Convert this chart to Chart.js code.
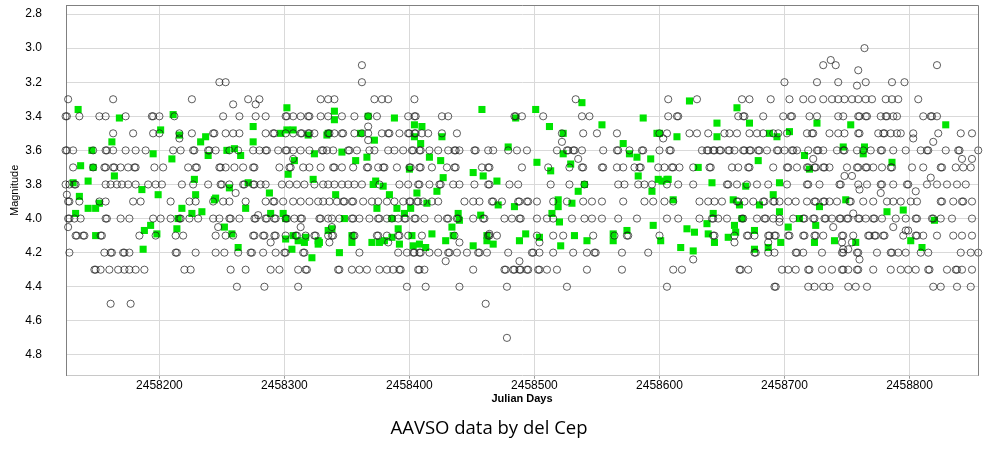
<!DOCTYPE html>
<html>
<head>
<meta charset="utf-8">
<script src="https://cdn.jsdelivr.net/npm/chart.js@4.4.1/dist/chart.umd.min.js"></script>
<style>
  html, body { margin: 0; padding: 0; background: #fff; }
  #wrap { width: 989px; height: 460px; position: relative; }
</style>
</head>
<body>
<div id="wrap"><canvas id="delCepChart"></canvas></div>
<script>
// Julian Day values are stored as offsets from this base
const JD_BASE = 2458000;

// Axis ticks
const xTicks = [2458200, 2458300, 2458400, 2458500, 2458600, 2458700, 2458800];
const yTicks = [2.8, 3.0, 3.2, 3.4, 3.6, 3.8, 4.0, 4.2, 4.4, 4.6, 4.8];

// Visual estimates (open circles), grouped by the magnitude they were reported at
const row30 = [764];
const row31 = [362, 731, 741, 822];
const row32 = [248, 253, 362, 700, 726, 743, 765, 786, 796];
const row33 = [127, 163, 226, 271, 280, 329, 335, 340, 372, 378, 383, 404, 533, 607, 630, 666, 672, 689, 704, 715, 722, 731, 738, 743, 748, 754, 759, 765, 770, 781, 786, 791, 807];
const row34 = [125, 126, 136, 152, 157, 173, 194, 195, 200, 212, 251, 264, 277, 285, 301, 302, 307, 313, 319, 320, 329, 335, 346, 356, 367, 374, 399, 404, 405, 426, 431, 484, 485, 490, 507, 538, 544, 607, 614, 615, 663, 667, 668, 683, 699, 705, 706, 720, 726, 743, 747, 759, 760, 765, 766, 777, 781, 782, 787, 790, 811, 817, 818, 822];
const row35 = [163, 179, 195, 200, 216, 226, 243, 244, 253, 259, 264, 285, 291, 292, 301, 307, 313, 314, 319, 320, 324, 335, 336, 340, 346, 347, 356, 362, 367, 378, 383, 384, 392, 399, 400, 404, 405, 410, 415, 426, 438, 522, 539, 550, 566, 600, 606, 624, 630, 639, 652, 656, 662, 672, 678, 683, 691, 695, 702, 718, 722, 723, 736, 743, 748, 759, 760, 775, 779, 780, 785, 790, 793, 803, 823, 841, 850];
const row36 = [125, 126, 131, 147, 157, 158, 163, 173, 181, 189, 211, 217, 227, 228, 239, 240, 245, 256, 263, 275, 280, 285, 286, 295, 301, 302, 307, 313, 320, 330, 331, 334, 339, 351, 352, 358, 368, 372, 383, 388, 395, 402, 403, 408, 409, 416, 423, 431, 436, 437, 440, 452, 453, 463, 467, 479, 486, 494, 518, 526, 527, 531, 532, 538, 555, 566, 567, 576, 586, 587, 600, 608, 609, 634, 638, 639, 643, 644, 648, 649, 655, 656, 660, 667, 668, 672, 673, 679, 680, 686, 694, 695, 700, 706, 707, 710, 719, 726, 727, 731, 742, 747, 748, 758, 763, 769, 777, 778, 787, 797, 809, 814, 815, 829, 839, 840, 855];
const row37 = [131, 147, 156, 157, 163, 164, 169, 175, 180, 181, 196, 203, 223, 229, 230, 248, 249, 253, 260, 267, 275, 276, 296, 304, 305, 315, 320, 329, 339, 340, 346, 355, 366, 367, 375, 379, 380, 390, 400, 401, 408, 409, 418, 430, 436, 437, 458, 463, 464, 490, 511, 528, 538, 539, 554, 555, 566, 571, 580, 584, 585, 599, 604, 610, 611, 616, 627, 640, 641, 658, 663, 671, 672, 691, 702, 703, 710, 718, 719, 724, 725, 731, 732, 736, 750, 758, 759, 765, 766, 771, 778, 785, 786, 802, 811, 825, 826, 837, 843, 849];
const row38 = [125, 128, 132, 133, 157, 161, 166, 170, 175, 181, 191, 197, 202, 218, 227, 239, 249, 250, 256, 267, 268, 275, 276, 281, 285, 298, 304, 310, 316, 324, 331, 335, 340, 346, 351, 356, 362, 376, 392, 399, 407, 408, 416, 424, 425, 435, 440, 452, 463, 464, 480, 487, 513, 528, 540, 567, 572, 583, 588, 594, 606, 615, 627, 654, 655, 662, 670, 678, 687, 702, 718, 719, 728, 744, 745, 759, 766, 777, 778, 787, 798, 799, 814, 822, 830, 838, 845];
const row39 = [127, 128, 136, 152, 157, 179, 185, 209, 224, 229, 243, 251, 256, 269, 285, 291, 292, 299, 307, 313, 320, 327, 331, 336, 342, 347, 348, 354, 355, 363, 370, 375, 382, 388, 395, 400, 401, 406, 407, 411, 418, 423, 444, 451, 456, 466, 467, 474, 487, 488, 494, 495, 502, 515, 526, 539, 546, 554, 571, 588, 595, 604, 611, 632, 639, 644, 650, 662, 663, 668, 675, 683, 684, 691, 692, 696, 703, 709, 718, 724, 725, 731, 732, 736, 742, 752, 753, 763, 771, 782, 787, 793, 801, 806, 825, 826, 835, 842, 843, 850];
const row40 = [127, 128, 132, 137, 157, 158, 169, 176, 195, 201, 209, 216, 217, 224, 231, 243, 248, 256, 257, 264, 276, 277, 285, 286, 292, 293, 301, 302, 308, 313, 314, 328, 329, 335, 338, 344, 354, 355, 360, 368, 375, 376, 382, 386, 391, 396, 397, 404, 405, 412, 423, 430, 431, 438, 439, 451, 459, 460, 476, 482, 488, 489, 502, 510, 515, 530, 540, 546, 554, 567, 582, 606, 615, 632, 642, 643, 647, 654, 666, 667, 678, 684, 685, 691, 696, 707, 715, 716, 723, 724, 732, 733, 738, 744, 745, 750, 751, 759, 760, 765, 771, 772, 778, 789, 797, 805, 806, 818, 819, 825, 834, 850];
const row41 = [133, 134, 139, 140, 153, 154, 184, 197, 213, 219, 245, 253, 259, 275, 276, 283, 284, 292, 293, 301, 309, 310, 317, 324, 325, 335, 338, 339, 355, 356, 374, 375, 382, 391, 392, 399, 410, 436, 463, 464, 470, 502, 515, 523, 547, 564, 574, 575, 600, 643, 644, 660, 670, 671, 676, 687, 688, 692, 693, 703, 704, 715, 716, 724, 725, 731, 746, 747, 755, 767, 768, 772, 773, 779, 780, 795, 805, 806, 811, 822, 835, 842, 850];
const row42 = [128, 156, 161, 162, 171, 172, 176, 213, 214, 229, 245, 252, 263, 273, 274, 283, 293, 300, 301, 315, 316, 360, 391, 398, 403, 404, 408, 409, 416, 423, 431, 432, 438, 446, 455, 456, 462, 479, 498, 499, 504, 515, 531, 542, 548, 549, 570, 591, 676, 677, 687, 692, 709, 710, 715, 730, 746, 747, 758, 759, 774, 785, 786, 791, 797, 809, 815, 841, 849, 855];
const row43 = [148, 149, 153, 160, 167, 172, 176, 181, 188, 220, 225, 257, 269, 289, 296, 311, 317, 318, 343, 344, 354, 360, 366, 376, 382, 387, 392, 393, 407, 408, 412, 451, 476, 477, 483, 484, 488, 489, 494, 495, 503, 504, 510, 518, 542, 570, 611, 618, 664, 665, 671, 698, 703, 709, 719, 720, 730, 738, 746, 747, 751, 758, 759, 771, 785, 793, 799, 805, 815, 816, 830, 837, 838, 842, 850];
const row44 = [262, 284, 311, 398, 413, 440, 478, 526, 606, 692, 693, 719, 724, 731, 736, 751, 757, 766, 819, 825, 838, 849];
const row45 = [161, 177, 461];
const row47 = [478];

// Visual estimates reported at finer values: [day offset, magnitude]
const circlesOffGrid = [
  [737, 3.07], [759, 3.13], [758, 3.22], [259, 3.33], [277, 3.33], [216, 3.53], [367, 3.46], [367, 3.54],
  [603, 3.53], [803, 3.53], [819, 3.55], [307, 3.65], [522, 3.55], [535, 3.65], [723, 3.65], [842, 3.65],
  [850, 3.65], [261, 3.85], [126, 3.86], [748, 3.75], [754, 3.75], [760, 3.83], [777, 3.85], [805, 3.84],
  [817, 3.76], [127, 4.05], [247, 4.05], [313, 4.05], [279, 3.98], [338, 4.05], [696, 4.02], [739, 4.05],
  [755, 3.97], [787, 4.05], [797, 4.07], [289, 4.14], [336, 4.14], [383, 4.14], [440, 4.14], [464, 4.09],
  [504, 4.14], [660, 4.14], [687, 4.14], [746, 4.14], [754, 4.14], [747, 4.18], [751, 4.18], [760, 4.24],
  [799, 4.07], [429, 4.25], [488, 4.25], [627, 4.24]
];

// Instrumental (green squares): [day offset, magnitude]
const greenPoints = [
  [135, 3.36], [168, 3.41], [146, 3.60], [137, 3.69], [147, 3.70], [131, 3.79], [143, 3.78], [164, 3.75],
  [162, 3.55], [186, 3.83], [199, 3.86], [195, 3.62], [201, 3.48], [211, 3.39], [216, 3.51], [210, 3.65],
  [228, 3.77], [229, 3.86], [233, 3.55], [237, 3.52], [239, 3.63], [254, 3.60], [260, 3.59], [265, 3.63],
  [256, 3.82], [271, 3.79], [275, 3.46], [275, 3.55], [288, 3.85], [302, 3.35], [297, 3.50], [302, 3.48],
  [307, 3.48], [303, 3.74], [308, 3.66], [319, 3.51], [324, 3.62], [323, 3.77], [335, 3.50], [245, 3.88],
  [133, 3.97], [143, 3.94], [149, 3.94], [152, 3.91], [136, 3.87], [149, 4.10], [188, 4.07], [193, 4.04],
  [198, 4.09], [187, 4.18], [218, 3.94], [226, 3.97], [234, 3.96], [215, 4.00], [214, 4.06], [252, 4.05],
  [258, 4.09], [263, 4.17], [269, 3.94], [289, 3.97], [299, 3.97], [301, 4.12], [306, 4.18], [307, 4.10],
  [311, 4.13], [316, 4.14], [317, 4.11], [322, 4.23], [327, 4.13], [327, 4.15], [335, 4.07], [301, 4.00],
  [244, 3.89], [340, 3.37], [340, 3.42], [334, 3.51], [367, 3.40], [388, 3.41], [361, 3.50], [372, 3.54],
  [346, 3.61], [366, 3.64], [357, 3.66], [373, 3.78], [371, 3.80], [379, 3.81], [384, 3.86], [341, 3.86],
  [404, 3.45], [410, 3.46], [404, 3.52], [409, 3.56], [416, 3.64], [425, 3.66], [426, 3.52], [400, 3.71],
  [427, 3.76], [422, 3.84], [406, 3.85], [451, 3.73], [459, 3.75], [470, 3.78], [458, 3.36], [479, 3.58],
  [485, 3.41], [501, 3.36], [502, 3.67], [512, 3.46], [523, 3.50], [523, 3.62], [513, 3.72], [529, 3.68],
  [538, 3.32], [554, 3.45], [571, 3.56], [576, 3.62], [582, 3.64], [587, 3.41], [593, 3.65], [598, 3.50],
  [583, 3.75], [599, 3.77], [606, 3.77], [535, 3.84], [540, 3.80], [594, 3.84], [519, 3.89], [374, 3.94],
  [390, 3.94], [396, 3.97], [401, 3.94], [414, 3.91], [348, 4.00], [386, 4.00], [391, 4.06], [338, 4.06],
  [354, 4.10], [354, 4.14], [370, 4.14], [376, 4.14], [380, 4.13], [386, 4.11], [392, 4.15], [402, 4.10],
  [403, 4.16], [408, 4.15], [413, 4.17], [418, 4.09], [344, 4.20], [328, 4.14], [429, 4.13], [434, 4.05],
  [439, 3.97], [440, 4.01], [435, 4.10], [451, 4.16], [457, 3.98], [462, 4.10], [462, 4.13], [467, 4.15],
  [471, 3.92], [484, 3.93], [488, 4.13], [493, 4.09], [504, 4.11], [514, 3.97], [520, 4.02], [519, 3.93],
  [521, 4.16], [530, 3.91], [532, 4.10], [542, 4.13], [563, 4.09], [563, 4.13], [574, 4.07], [595, 4.04],
  [601, 4.13], [624, 3.31], [662, 3.35], [646, 3.44], [672, 3.44], [600, 3.50], [614, 3.52], [646, 3.52],
  [688, 3.50], [694, 3.52], [704, 3.49], [726, 3.44], [753, 3.45], [829, 3.45], [747, 3.58], [764, 3.58],
  [763, 3.62], [716, 3.63], [679, 3.66], [631, 3.70], [720, 3.71], [786, 3.67], [607, 3.77], [602, 3.78],
  [642, 3.79], [669, 3.81], [696, 3.79], [691, 3.86], [611, 3.89], [659, 3.89], [749, 3.89], [622, 4.06],
  [628, 4.08], [617, 4.17], [627, 4.19], [638, 4.03], [643, 3.97], [639, 4.09], [644, 4.14], [655, 4.11],
  [660, 4.04], [661, 4.08], [664, 3.92], [666, 4.00], [676, 4.07], [676, 4.18], [680, 3.92], [687, 4.17],
  [696, 3.96], [697, 4.14], [703, 4.05], [712, 4.00], [725, 4.04], [724, 4.14], [728, 3.93], [740, 4.13],
  [757, 4.14], [782, 3.96], [795, 3.95], [801, 4.13], [810, 4.17], [820, 4.01]
];

// Build point lists
const rows = [
  [3.0, row30], [3.1, row31], [3.2, row32], [3.3, row33], [3.4, row34], [3.5, row35],
  [3.6, row36], [3.7, row37], [3.8, row38], [3.9, row39], [4.0, row40], [4.1, row41],
  [4.2, row42], [4.3, row43], [4.4, row44], [4.5, row45], [4.7, row47]
];
const circleData = [];
rows.forEach(([mag, days]) => {
  days.forEach((d) => circleData.push({ x: JD_BASE + d, y: mag }));
});
circlesOffGrid.forEach(([d, mag]) => circleData.push({ x: JD_BASE + d, y: mag }));
const greenData = greenPoints.map(([d, mag]) => ({ x: JD_BASE + d, y: mag }));

// Frame on top and right of the plot
const framePlugin = {
  id: "frame",
  afterDraw(chart) {
    const { ctx, chartArea: a } = chart;
    ctx.save();
    ctx.strokeStyle = "#808080";
    ctx.lineWidth = 1;
    ctx.beginPath();
    ctx.moveTo(a.left, a.top + 0.5);
    ctx.lineTo(a.right + 0.5, a.top + 0.5);
    ctx.lineTo(a.right + 0.5, a.bottom);
    ctx.stroke();
    ctx.restore();
  },
};

Chart.defaults.font.family = "'Liberation Sans', Arial, sans-serif";
Chart.defaults.color = "#000";

const ctx = document.getElementById("delCepChart");
new Chart(ctx, {
  type: "scatter",
  data: {
    datasets: [
      {
        label: "Visual",
        data: circleData,
        pointStyle: "circle",
        pointRadius: 3.6,
        pointBorderWidth: 1,
        backgroundColor: "rgba(0,0,0,0)",
        borderColor: "rgba(30,30,30,0.72)",
        clip: false,
        order: 0,
      },
      {
        label: "Instrumental",
        data: greenData,
        pointStyle: "rect",
        pointRadius: 5,
        pointBorderWidth: 0,
        backgroundColor: "#00e400",
        borderColor: "#00e400",
        clip: false,
        order: 1,
      },
    ],
  },
  options: {
    responsive: true,
    maintainAspectRatio: false,
    animation: false,
    events: [],
    layout: { padding: { top: 5, right: 11, left: 0, bottom: 10 } },
    plugins: {
      legend: { display: false },
      tooltip: { enabled: false },
      title: {
        display: true,
        position: "bottom",
        text: "AAVSO data by del Cep",
        font: { family: "'Open Sans', sans-serif", size: 18.5, weight: "normal" },
        color: "#000",
        padding: { top: 13, bottom: 10 },
      },
    },
    scales: {
      x: {
        type: "linear",
        min: 2458125.3,
        max: 2458854.8,
        afterBuildTicks: (scale) => {
          scale.ticks = xTicks.map((v) => ({ value: v }));
        },
        afterFit: (scale) => {
          scale.paddingLeft = 0;
          scale.paddingRight = 0;
        },
        ticks: {
          font: { size: 12, lineHeight: 1.0 },
          padding: 1,
          maxRotation: 0,
          callback: (v) => String(v),
        },
        grid: { color: "#d9d9d9", tickLength: 3, tickColor: "#9a9a9a" },
        border: { color: "#c8c8c8" },
        title: {
          display: true,
          text: "Julian Days",
          font: { size: 11, weight: "bold", lineHeight: 1.1 },
          padding: { top: 0, bottom: 0 },
        },
      },
      y: {
        type: "linear",
        reverse: true,
        min: 2.747,
        max: 4.922,
        afterBuildTicks: (scale) => {
          scale.ticks = yTicks.map((v) => ({ value: v }));
        },
        afterFit: (scale) => {
          scale.width = 66;
          scale.paddingTop = 0;
          scale.paddingBottom = 0;
        },
        ticks: {
          font: { size: 12 },
          padding: 24,
          callback: (v) => Number(v).toFixed(1),
        },
        grid: { color: "#d9d9d9", drawTicks: false },
        border: { color: "#808080" },
        title: {
          display: true,
          text: "Magnitude",
          font: { size: 11 },
          padding: { top: 8, bottom: 0 },
        },
      },
    },
  },
  plugins: [framePlugin],
});
</script>
</body>
</html>
